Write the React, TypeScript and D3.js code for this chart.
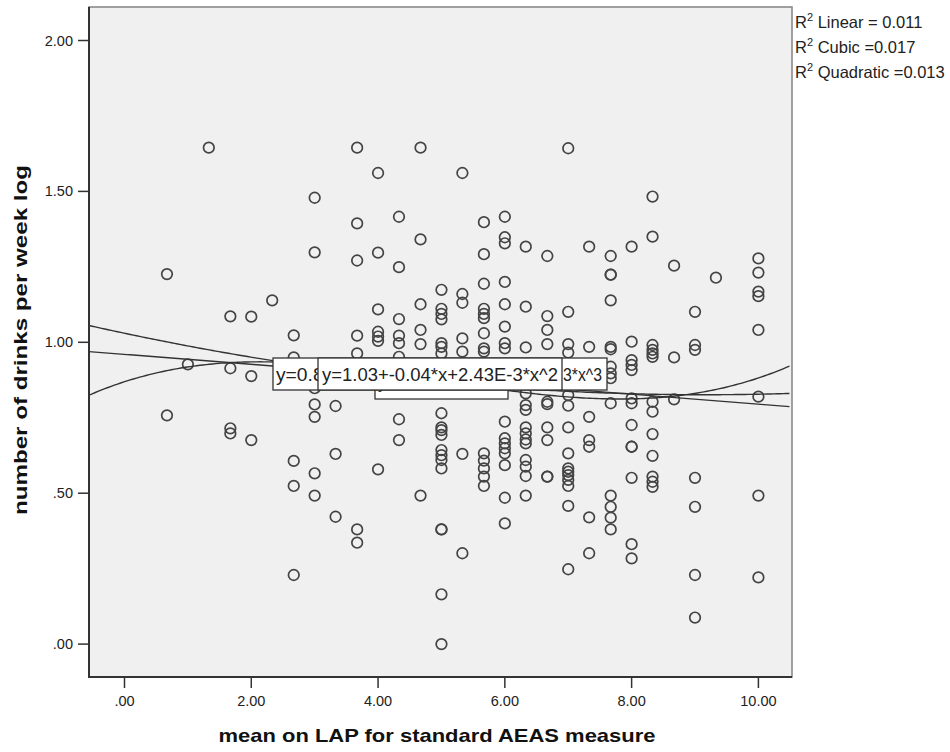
import * as d3 from "d3";

// LAP score columns (x) and the log drinks values observed at each one (y)
const lapScores = [
  0.67, 1.0, 1.33, 1.67, 2.0, 2.33, 2.67, 3.0, 3.33, 3.67, 4.0, 4.33, 4.67, 5.0,
  5.33, 5.67, 6.0, 6.33, 6.67, 7.0, 7.33, 7.67, 8.0, 8.33, 8.67, 9.0, 9.33, 10.0,
];

const drinksLog: number[][] = [
  [1.226, 0.758],
  [0.927],
  [1.645],
  [1.086, 0.914, 0.715, 0.698],
  [1.085, 0.888, 0.676],
  [1.139],
  [1.023, 0.95, 0.607, 0.524, 0.229],
  [1.479, 1.298, 0.848, 0.794, 0.753, 0.566, 0.492],
  [0.789, 0.63, 0.422],
  [1.645, 1.394, 1.271, 1.022, 0.963, 0.38, 0.336],
  [1.561, 1.297, 1.109, 1.035, 1.019, 1.005, 0.579],
  [1.416, 1.249, 1.077, 1.022, 0.997, 0.952, 0.745, 0.676],
  [1.645, 1.341, 1.126, 1.041, 0.994, 0.492],
  [1.174, 1.111, 1.094, 1.076, 0.997, 0.985, 0.963, 0.765, 0.718, 0.709, 0.693, 0.643, 0.626, 0.61, 0.582, 0.38, 0.38, 0.165, 0.0],
  [1.561, 1.16, 1.131, 1.013, 0.969, 0.63, 0.301],
  [1.398, 1.292, 1.194, 1.111, 1.094, 1.08, 1.03, 0.98, 0.969, 0.632, 0.608, 0.582, 0.555, 0.524],
  [1.416, 1.348, 1.328, 1.2, 1.126, 1.052, 0.997, 0.98, 0.737, 0.682, 0.665, 0.649, 0.632, 0.593, 0.485, 0.4],
  [1.317, 1.118, 0.983, 0.831, 0.792, 0.776, 0.718, 0.698, 0.678, 0.665, 0.61, 0.588, 0.557, 0.492],
  [1.286, 1.087, 1.041, 0.994, 0.803, 0.795, 0.718, 0.676, 0.555, 0.555],
  [1.643, 1.101, 0.994, 0.966, 0.825, 0.79, 0.718, 0.632, 0.582, 0.571, 0.56, 0.544, 0.524, 0.458, 0.248],
  [1.317, 0.985, 0.753, 0.676, 0.654, 0.42, 0.301],
  [1.286, 1.224, 1.224, 1.139, 0.985, 0.977, 0.919, 0.897, 0.881, 0.798, 0.492, 0.455, 0.419, 0.38],
  [1.317, 1.002, 0.941, 0.925, 0.908, 0.814, 0.798, 0.726, 0.654, 0.654, 0.551, 0.331, 0.284],
  [1.483, 1.35, 0.991, 0.975, 0.963, 0.952, 0.803, 0.77, 0.696, 0.624, 0.555, 0.538, 0.521],
  [1.254, 0.95, 0.811],
  [1.101, 0.991, 0.975, 0.551, 0.455, 0.229, 0.088],
  [1.214],
  [1.278, 1.231, 1.168, 1.153, 1.041, 0.82, 0.492, 0.221],
];

// fitted curves (intercept, x, x^2, x^3)
const linearCoef = [0.96, -0.0165];
const quadraticCoef = [1.03, -0.0445, 0.00243];
const cubicCoef = [0.8693, 0.06788, -0.0202, 0.0013537];

const linearLabel = "y=0.96+-0.02*x";
const cubicLabelHead = "y=0.87+0.07*x+-0.02*x^2+1.35E-";
const cubicLabelTail = "3*x^3";
const quadraticLabel = "y=1.03+-0.04*x+2.43E-3*x^2";

const rSquared = [
  { name: "Linear = ", value: "0.011", width: 128 },
  { name: "Cubic =", value: "0.017", width: 121 },
  { name: "Quadratic =", value: "0.013", width: 151 },
];

const xTicks = [0, 2, 4, 6, 8, 10];
const yTicks = [0, 0.5, 1, 1.5, 2];

const W = 950;
const H = 752;
const plot = { left: 89, right: 792, top: 7, bottom: 677 };

export default function App() {
  const x = d3.scaleLinear().domain([-0.56, 10.53]).range([plot.left, plot.right]);
  const y = d3.scaleLinear().domain([-0.109, 2.111]).range([plot.bottom, plot.top]);

  const fmt = (v: number) => d3.format(".2f")(v).replace(/^0\./, ".");

  const points = lapScores.flatMap((lx, i) => drinksLog[i].map((v) => [lx, v]));

  const xs = d3.range(-0.56, 10.54, 0.05);
  const poly = (c: number[]) => (v: number) => c.reduce((s, k, i) => s + k * Math.pow(v, i), 0);
  const curvePath = (c: number[]) => {
    const f = poly(c);
    return (
      d3
        .line<number>()
        .x((v) => x(v))
        .y((v) => y(f(v)))(xs) || ""
    );
  };

  const font = "'Liberation Sans', Arial, sans-serif";

  return (
    <svg
      width={W}
      height={H}
      style={{ position: "absolute", left: 0, top: 0, background: "#fff" }}
      fontFamily={font}
    >
      <defs>
        <clipPath id="plotClip">
          <rect x={plot.left} y={plot.top} width={plot.right - plot.left} height={plot.bottom - plot.top} />
        </clipPath>
      </defs>

      <rect
        x={plot.left}
        y={plot.top}
        width={plot.right - plot.left}
        height={plot.bottom - plot.top}
        fill="#f0f0f0"
        stroke="#8a8a8a"
        strokeWidth={1.6}
      />

      {/* points */}
      <g clipPath="url(#plotClip)">
        {points.map(([px, py], i) => (
          <circle key={i} cx={x(px)} cy={y(py)} r={5.3} fill="none" stroke="#444" strokeWidth={1.7} />
        ))}
      </g>

      {/* fit lines */}
      <g clipPath="url(#plotClip)" fill="none" stroke="#333" strokeWidth={1.4}>
        <path d={curvePath(linearCoef)} />
        <path d={curvePath(quadraticCoef)} />
        <path d={curvePath(cubicCoef)} />
      </g>

      {/* equation labels */}
      <g fontSize={18} fill="#222">
        <rect x={375} y={367} width={133} height={32} fill="#fff" stroke="#333" strokeWidth={1.3} />
        <text x={378} y={388}>{linearLabel}</text>
        <rect x={273} y={358} width={334} height={32} fill="#fff" stroke="#333" strokeWidth={1.3} />
        <text x={276} y={381}>
          <tspan textLength={284} lengthAdjust="spacingAndGlyphs">{cubicLabelHead}</tspan>
          <tspan x={563} textLength={39} lengthAdjust="spacingAndGlyphs">{cubicLabelTail}</tspan>
        </text>
        <rect x={318} y={358} width={244} height={32} fill="#fff" stroke="#333" strokeWidth={1.3} />
        <text x={322} y={381} textLength={236} lengthAdjust="spacingAndGlyphs">
          {quadraticLabel}
        </text>
      </g>

      {/* axes */}
      <line x1={plot.left} x2={plot.left} y1={plot.top} y2={plot.bottom + 1} stroke="#333" strokeWidth={2} />
      <line x1={plot.left - 1} x2={plot.right} y1={plot.bottom} y2={plot.bottom} stroke="#333" strokeWidth={2} />

      {yTicks.map((t) => (
        <g key={t}>
          <line x1={78} x2={plot.left} y1={y(t)} y2={y(t)} stroke="#333" strokeWidth={1.5} />
          <text x={73} y={y(t) + 5} textAnchor="end" fontSize={14.5} fill="#222">
            {fmt(t)}
          </text>
        </g>
      ))}
      {xTicks.map((t) => (
        <g key={t}>
          <line x1={x(t)} x2={x(t)} y1={plot.bottom} y2={688} stroke="#333" strokeWidth={1.5} />
          <text x={x(t)} y={706} textAnchor="middle" fontSize={14.5} fill="#222">
            {fmt(t)}
          </text>
        </g>
      ))}

      <text
        x={437}
        y={742}
        textAnchor="middle"
        fontSize={19}
        fontWeight="bold"
        fill="#111"
        textLength={437}
        lengthAdjust="spacingAndGlyphs"
      >
        mean on LAP for standard AEAS measure
      </text>
      <text
        transform={`translate(27,340) rotate(-90)`}
        textAnchor="middle"
        fontSize={19}
        fontWeight="bold"
        fill="#111"
        textLength={350}
        lengthAdjust="spacingAndGlyphs"
      >
        number of drinks per week log
      </text>

      {/* R squared legend */}
      {rSquared.map((r, i) => (
        <text key={r.name} x={795} y={27.5 + i * 25} fontSize={16.5} fill="#222">
          R<tspan fontSize={11} dy={-7}>2</tspan>
          <tspan dy={7}>{" " + r.name + r.value}</tspan>
        </text>
      ))}
    </svg>
  );
}
